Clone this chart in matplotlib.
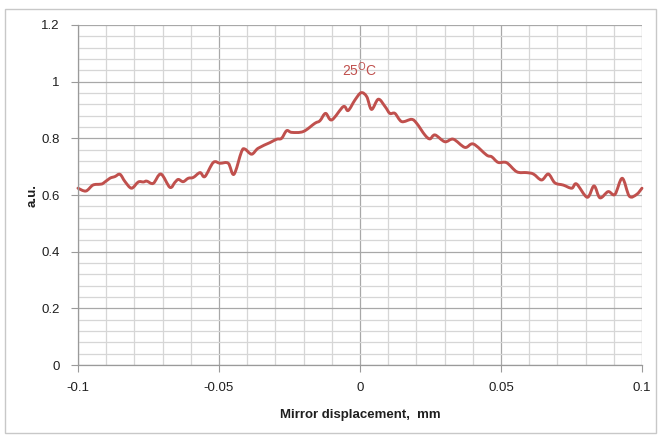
import matplotlib
matplotlib.use("Agg")
import matplotlib.pyplot as plt
from matplotlib.patches import Rectangle, PathPatch
from matplotlib.path import Path
from matplotlib.ticker import MultipleLocator, FixedLocator

plt.rcParams['font.family'] = ['Liberation Sans', 'DejaVu Sans']

# Mirror displacement (mm) and normalized signal (a.u.)
displacement = [
    -0.1000, -0.0972, -0.0947, -0.0922, -0.0911, -0.0887, -0.0869, -0.0851,
    -0.0833, -0.0810, -0.0786, -0.0768, -0.0756, -0.0733, -0.0706, -0.0674,
    -0.0656, -0.0644, -0.0627, -0.0609, -0.0591, -0.0567, -0.0550, -0.0520,
    -0.0496, -0.0467, -0.0447, -0.0420, -0.0408, -0.0384, -0.0361, -0.0319,
    -0.0295, -0.0278, -0.0260, -0.0242, -0.0201, -0.0160, -0.0142, -0.0122,
    -0.0100, -0.0059, -0.0042, -0.0018, 0.0004, 0.0024, 0.0041, 0.0065,
    0.0089, 0.0106, 0.0124, 0.0148, 0.0183, 0.0201, 0.0230, 0.0248,
    0.0266, 0.0301, 0.0331, 0.0372, 0.0402, 0.0449, 0.0467, 0.0490,
    0.0520, 0.0556, 0.0591, 0.0615, 0.0644, 0.0668, 0.0691, 0.0721,
    0.0751, 0.0768, 0.0806, 0.0830, 0.0851, 0.0880, 0.0904, 0.0930,
    0.0955, 0.0981, 0.1000,
]
signal = [
    0.624, 0.614, 0.635, 0.638, 0.641, 0.659, 0.665, 0.673,
    0.647, 0.624, 0.646, 0.646, 0.649, 0.641, 0.674, 0.627,
    0.645, 0.655, 0.647, 0.659, 0.662, 0.679, 0.665, 0.715,
    0.712, 0.712, 0.673, 0.753, 0.762, 0.744, 0.765, 0.785,
    0.797, 0.800, 0.827, 0.821, 0.824, 0.853, 0.862, 0.888,
    0.865, 0.912, 0.898, 0.935, 0.961, 0.947, 0.902, 0.938,
    0.912, 0.888, 0.888, 0.859, 0.867, 0.853, 0.812, 0.798,
    0.812, 0.788, 0.797, 0.768, 0.780, 0.741, 0.735, 0.715,
    0.714, 0.682, 0.679, 0.674, 0.653, 0.674, 0.643, 0.635,
    0.624, 0.639, 0.592, 0.632, 0.590, 0.612, 0.602, 0.659,
    0.596, 0.602, 0.624,
]

x_ticks = [-0.1, -0.05, 0, 0.05, 0.1]
x_tick_labels = ['-0.1', '-0.05', '0', '0.05', '0.1']
y_ticks = [0, 0.2, 0.4, 0.6, 0.8, 1.0, 1.2]
y_tick_labels = ['0', '0.2', '0.4', '0.6', '0.8', '1', '1.2']

line_color = '#c0504d'
text_color = '#1f1f1f'


def smooth_path(xs, ys, tension=1.0 / 6.0):
    """Cubic Bezier path through every point (Catmull-Rom style smoothing)."""
    n = len(xs)
    verts = [(xs[0], ys[0])]
    codes = [Path.MOVETO]
    for i in range(n - 1):
        x0, y0 = (xs[i - 1], ys[i - 1]) if i > 0 else (xs[i], ys[i])
        x1, y1 = xs[i], ys[i]
        x2, y2 = xs[i + 1], ys[i + 1]
        x3, y3 = (xs[i + 2], ys[i + 2]) if i + 2 < n else (x2, y2)
        c1 = (x1 + (x2 - x0) * tension, y1 + (y2 - y0) * tension)
        c2 = (x2 - (x3 - x1) * tension, y2 - (y3 - y1) * tension)
        verts += [c1, c2, (x2, y2)]
        codes += [Path.CURVE4] * 3
    return Path(verts, codes)


fig = plt.figure(figsize=(6.63, 4.36), dpi=100)
fig.patches.append(Rectangle((0.008, 0.007), 0.982, 0.973, transform=fig.transFigure,
                             fill=False, edgecolor='#c8c8c8', linewidth=1.0))

ax = fig.add_axes([0.1176, 0.1628, 0.8507, 0.7799])
ax.set_xlim(-0.1, 0.1)
ax.set_ylim(0, 1.2)

ax.xaxis.set_major_locator(FixedLocator(x_ticks))
ax.xaxis.set_minor_locator(MultipleLocator(0.01))
ax.yaxis.set_major_locator(FixedLocator(y_ticks))
ax.yaxis.set_minor_locator(MultipleLocator(0.04))
ax.set_xticklabels(x_tick_labels)
ax.set_yticklabels(y_tick_labels)

ax.grid(True, which='major', color='#a8a8a8', linewidth=0.9)
ax.grid(True, which='minor', color='#d6d6d6', linewidth=0.9)
ax.set_axisbelow(True)

for side in ('top', 'right'):
    ax.spines[side].set_visible(False)
for side in ('left', 'bottom'):
    ax.spines[side].set_color('#9a9a9a')
    ax.spines[side].set_linewidth(0.9)

ax.tick_params(axis='both', which='major', direction='out', length=5,
               color='#9a9a9a', labelsize=9.5, labelcolor=text_color)
ax.tick_params(axis='both', which='minor', length=0)
ax.tick_params(axis='x', pad=7)
ax.tick_params(axis='y', pad=8)

curve = PathPatch(smooth_path(displacement, signal), facecolor='none',
                  edgecolor=line_color, linewidth=2.1, joinstyle='round',
                  capstyle='round', transform=ax.transData, clip_on=False)
ax.add_patch(curve)

ax.text(0.0, 1.042, '25$^{\\mathregular{O}}$C', color=line_color, fontsize=10,
        ha='center', va='center')

ax.set_xlabel('Mirror displacement,  mm', fontsize=9.5, fontweight='bold',
              color=text_color, labelpad=11)
ax.set_ylabel('a.u.', fontsize=9.5, fontweight='bold', color=text_color)
ax.yaxis.set_label_coords(-0.07, 0.5)

fig.savefig('out.png', dpi=100)
